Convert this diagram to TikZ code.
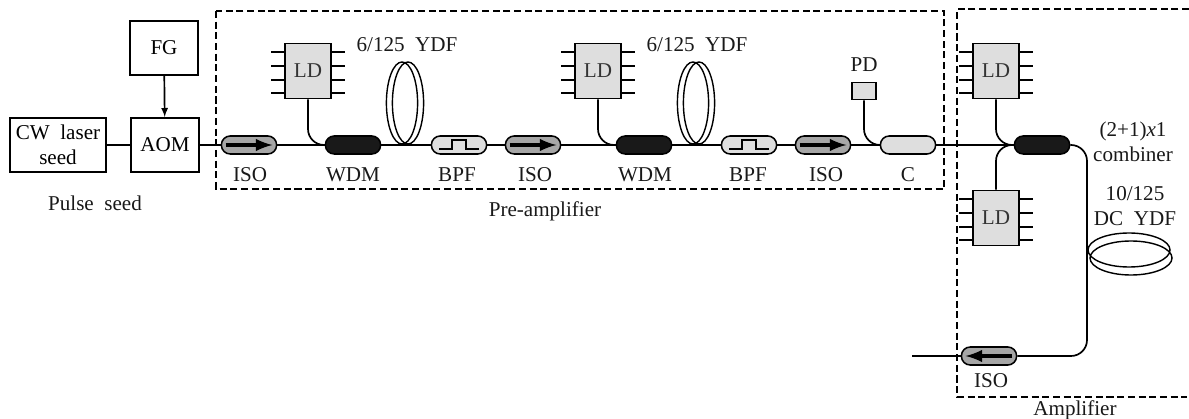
\documentclass[tikz,border=0pt]{standalone}
\usepackage{fontspec}
\setmainfont{Liberation Serif}
\usetikzlibrary{shapes.geometric, arrows, positioning, calc}

\tikzset{
  box/.style={rectangle, draw, line width=1.4pt, inner sep=0pt, align=center},
  txt/.style={inner sep=0pt, align=center, text=black!90},
  fibre/.style={draw, line width=1.2pt},
  dashbox/.style={draw, line width=1.2pt, dash pattern=on 5pt off 2.6pt},
  comp/.style={rectangle, rounded corners=0.22cm, draw, line width=1.1pt, minimum width=1.38cm, minimum height=0.45cm, inner sep=0pt},
  iso/.style={comp, fill=black!35},
  bpf/.style={comp, fill=black!13},
  wdm/.style={comp, fill=black!90},
  ld/.style={rectangle, draw, line width=1.1pt, fill=black!13, minimum width=1.15cm, minimum height=1.375cm, inner sep=0pt, text=black!80},
  coil/.style={ellipse, draw, line width=1pt, inner sep=0pt},
  coilv/.style={coil, minimum width=0.78cm, minimum height=2.05cm},
  coilh/.style={coil, minimum width=2.05cm, minimum height=0.85cm},
  isoarrow/.style={draw, line width=3pt, -latex},
  pin/.style={draw, line width=0.9pt}
}

\begin{document}
\begin{tikzpicture}[x=0.025cm, y=-0.025cm, font=\fontsize{15}{17}\selectfont]
\useasboundingbox (0,0) rectangle (1189,419);

%dashed frames
\draw[dashbox] (216,11) rectangle (944,189);
\draw[dashbox] (1189,9) -- (957,9) -- (957,397) -- (1187,397);

%nodes
\node[box, minimum width=2.4cm, minimum height=1.35cm] (cw) at (58,145) {CW\ \ laser\\[1pt]seed};
\node[box, minimum width=1.7cm, minimum height=1.35cm] (aom) at (165,145) {AOM};
\node[box, minimum width=1.7cm, minimum height=1.35cm] (fg) at (164,48) {FG};

\node[iso] (iso1) at (249,145) {};
\node[wdm] (wdm1) at (353,145) {};
\node[bpf] (bpf1) at (459,145) {};
\node[iso] (iso2) at (533,145) {};
\node[wdm] (wdm2) at (644,145) {};
\node[bpf] (bpf2) at (749,145) {};
\node[iso] (iso3) at (823,145) {};
\node[bpf] (cpl) at (908,145) {};
\node[wdm] (comb) at (1042,145) {};
\node[iso] (iso4) at (989,356) {};

\node[ld] (ld1) at (308,71) {LD};
\node[ld] (ld2) at (598,71) {LD};
\node[ld] (ld3) at (996,71) {LD};
\node[ld] (ld4) at (996,218) {LD};
\node[rectangle, draw, line width=1pt, fill=black!13, minimum width=0.6cm, minimum height=0.43cm] (pd) at (864,91) {};

\node[coilv] (coil1a) at (402,103) {};
\node[coilv] (coil1b) at (408,103) {};
\node[coilv] (coil2a) at (693,103) {};
\node[coilv] (coil2b) at (699,103) {};
\node[coilh] (coil3a) at (1129,250) {};
\node[coilh] (coil3b) at (1131,258) {};

\coordinate (turn) at (1087,250);
\coordinate (out) at (912,356);

%labels
\node[txt] (liso1) at (250,175) {ISO};
\node[txt] (lwdm1) at (353,175) {WDM};
\node[txt] (lbpf1) at (457,175) {BPF};
\node[txt] (liso2) at (535,175) {ISO};
\node[txt] (lwdm2) at (645,175) {WDM};
\node[txt] (lbpf2) at (748,175) {BPF};
\node[txt] (liso3) at (826,175) {ISO};
\node[txt] (lc) at (908,175) {C};
\node[txt] (lyd1) at (407,45) {6/125\ \ YDF};
\node[txt] (lyd2) at (697,45) {6/125\ \ YDF};
\node[txt] (lpd) at (864,65) {PD};
\node[txt] (lpulse) at (95,203) {Pulse\ \ seed};
\node[txt] (lpre) at (545,211) {Pre-amplifier};
\node[txt] (lcomb) at (1133,142) {(2+1)\textit{x}1\\[1pt]combiner};
\node[txt] (lyd3) at (1135,206) {10/125\\[1pt]DC\ \ YDF};
\node[txt] (liso4) at (991,381) {ISO};
\node[txt] (lamp) at (1075,410) {Amplifier};

%connections
\draw[fibre] (cw) -- (aom);
\draw[fibre] (aom) -- (iso1);
\draw[fibre] (iso1) -- (wdm1);
\draw[fibre] (wdm1) -- (bpf1);
\draw[fibre] (bpf1) -- (iso2);
\draw[fibre] (iso2) -- (wdm2);
\draw[fibre] (wdm2) -- (bpf2);
\draw[fibre] (bpf2) -- (iso3);
\draw[fibre] (iso3) -- (cpl);
\draw[fibre] (cpl) -- (comb);
\draw[fibre, rounded corners=0.4cm] (ld1.south) |- (wdm1.west);
\draw[fibre, rounded corners=0.4cm] (ld2.south) |- (wdm2.west);
\draw[fibre, rounded corners=0.4cm] (pd.south) |- (cpl.west);
\draw[fibre, rounded corners=0.4cm] (ld3.south) |- (comb.west);
\draw[fibre, rounded corners=0.4cm] (ld4.north) |- (comb.west);
\draw[fibre, rounded corners=0.4cm] (comb.east) -| (turn) |- (iso4.east);
\draw[fibre] (iso4.west) -- (out);
\draw[fibre, ->, >=latex] (fg) -- (aom);

%isolator arrows and filter passband
\draw[isoarrow] ($(iso1.west)+(5,0)$) -- ($(iso1.east)+(-5,0)$);
\draw[isoarrow] ($(iso2.west)+(5,0)$) -- ($(iso2.east)+(-5,0)$);
\draw[isoarrow] ($(iso3.west)+(5,0)$) -- ($(iso3.east)+(-5,0)$);
\draw[isoarrow] ($(iso4.east)+(-5,0)$) -- ($(iso4.west)+(5,0)$);
\foreach \f in {bpf1,bpf2}
  \draw[pin] ($(\f.center)+(-20,4)$) -- ++(13,0) -- ++(0,-9) -- ++(14,0) -- ++(0,9) -- ++(13,0);

%laser diode pins
\foreach \d in {ld1,ld2,ld3,ld4}
  \foreach \y in {-19,-5,9,22} {
    \draw[pin] ($(\d.center)+(-23,\y)$) -- ++(-14,0);
    \draw[pin] ($(\d.center)+(23,\y)$) -- ++(14,0);
  }
\end{tikzpicture}
\end{document}
